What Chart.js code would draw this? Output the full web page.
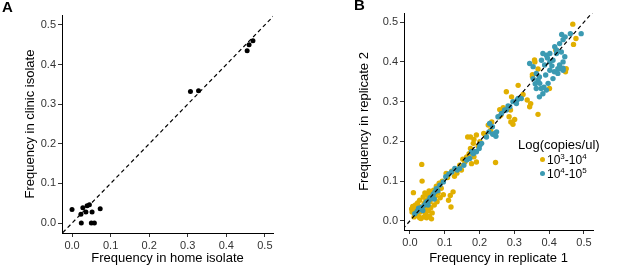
<!DOCTYPE html>
<html>
<head>
<meta charset="utf-8">
<script src="https://cdn.jsdelivr.net/npm/chart.js@4"></script>
<style>
  body { margin: 0; background: #fff; width: 617px; height: 266px; overflow: hidden; position: relative; font-family: "Liberation Sans", Arial, sans-serif; }
  canvas { position: absolute; top: 0; }
  #chartA { left: 0; }
  #chartB { left: 300px; }
  .tag { position: absolute; font-weight: bold; font-size: 15px; color: #000; }
  .leg { position: absolute; color: #000; white-space: nowrap; }
  .leg sup { font-size: 8px; }
  .dot { position: absolute; width: 5px; height: 5px; border-radius: 50%; }
</style>
</head>
<body>
<canvas id="chartA" width="300" height="266"></canvas>
<canvas id="chartB" width="317" height="266"></canvas>
<div class="tag" style="left:2px;top:-2px">A</div>
<div class="tag" style="left:354px;top:-4px">B</div>
<div class="leg" style="left:518px;top:137px;font-size:13px">Log(copies/ul)</div>
<div class="dot" style="left:540px;top:157px;background:#E1AF00"></div>
<div class="leg" style="left:547px;top:152px;font-size:12px">10<sup>3</sup>-10<sup>4</sup></div>
<div class="dot" style="left:540px;top:171px;background:#3B9AB2"></div>
<div class="leg" style="left:547px;top:166px;font-size:12px">10<sup>4</sup>-10<sup>5</sup></div>
<script>
// panel A: home vs clinic isolate
const homeFreq   = [0.000, 0.023, 0.028, 0.039, 0.045, 0.036, 0.052, 0.073, 0.024, 0.050, 0.058, 0.307, 0.328, 0.454, 0.459, 0.469];
const clinicFreq = [0.034, 0.022, 0.039, 0.044, 0.046, 0.028, 0.028, 0.036, 0.000, 0.000, 0.000, 0.332, 0.334, 0.435, 0.450, 0.460];

// panel B: replicate 1 vs replicate 2
const rep1Low = [0.005,0.006,0.008,0.010,0.012,0.014,0.016,0.018,0.020,0.022,0.024,0.026,0.028,0.030,0.032,0.034,0.035,0.036,0.038,0.040,
  0.041,0.043,0.045,0.046,0.048,0.050,0.051,0.053,0.055,0.056,0.058,0.060,0.062,0.064,0.066,0.068,0.070,0.073,0.076,0.078,
  0.081,0.084,0.087,0.090,0.093,0.096,0.012,0.028,0.044,0.062,
  0.104,0.108,0.111,0.116,0.118,0.124,0.120,0.128,0.135,0.143,0.148,0.158,0.163,0.170,0.174,0.184,0.191,0.177,0.166,0.174,
  0.184,0.191,0.182,0.201,0.152,0.196,
  0.246,0.225,0.232,0.235,0.256,0.261,0.258,0.268,0.277,0.289,0.285,0.290,0.301,0.296,0.212,0.218,0.292,
  0.311,0.337,0.347,0.344,0.368,0.359,0.368,0.449,0.447,0.470,0.468,0.477,0.352,0.325,0.401,0.419,0.358,0.352];
const rep2Low = [0.030,0.022,0.036,0.071,0.027,0.033,0.040,0.020,0.029,0.045,0.012,0.036,0.052,0.022,0.006,0.142,0.100,0.030,0.060,0.010,
  0.044,0.070,0.018,0.052,0.008,0.038,0.064,0.025,0.075,0.012,0.048,0.033,0.068,0.020,0.056,0.077,0.040,0.062,0.087,0.048,
  0.070,0.095,0.058,0.082,0.100,0.066,0.010,0.008,0.030,0.005,
  0.119,0.109,0.052,0.064,0.035,0.073,0.125,0.112,0.120,0.140,0.128,0.148,0.161,0.169,0.182,0.161,0.148,0.144,0.211,0.211,
  0.205,0.216,0.195,0.199,0.155,0.188,
  0.147,0.241,0.228,0.249,0.262,0.266,0.280,0.285,0.325,0.279,0.262,0.249,0.255,0.243,0.220,0.213,0.312,
  0.341,0.304,0.295,0.287,0.268,0.400,0.382,0.383,0.375,0.444,0.495,0.459,0.368,0.318,0.333,0.430,0.405,0.363];

const rep1High = [0.014,0.021,0.025,0.029,0.033,0.037,0.041,0.045,0.048,0.052,0.055,0.058,0.062,0.067,0.070,0.072,0.076,0.080,0.086,0.096,0.103,
  0.112,0.120,0.129,0.136,0.143,0.155,0.163,0.172,0.182,0.186,0.191,0.199,0.201,0.206,0.177,
  0.220,0.227,0.229,0.237,0.238,0.244,0.247,0.249,0.253,0.263,0.272,0.277,0.282,0.287,0.296,0.306,0.308,0.311,0.320,
  0.344,0.354,0.363,0.354,0.368,0.373,0.363,0.377,0.392,0.382,0.397,0.411,0.390,0.402,0.415,0.425,0.430,0.411,0.392,0.382,
  0.402,0.421,0.435,0.445,0.440,0.430,0.440,0.425,0.402,0.387,0.378,0.416,0.430,0.421,0.436,0.446,0.461,0.492,0.440,0.372,
  0.385,0.395,0.408,0.360,0.372,0.440];
const rep2High = [0.018,0.024,0.032,0.029,0.034,0.026,0.039,0.044,0.048,0.040,0.052,0.058,0.060,0.067,0.055,0.073,0.081,0.076,0.090,0.098,0.111,
  0.118,0.123,0.132,0.128,0.132,0.140,0.153,0.157,0.169,0.174,0.174,0.182,0.190,0.195,0.174,
  0.211,0.224,0.245,0.237,0.218,0.220,0.213,0.224,0.262,0.270,0.279,0.279,0.289,0.287,0.300,0.295,0.304,0.308,0.308,
  0.396,0.388,0.371,0.358,0.354,0.346,0.333,0.333,0.329,0.320,0.346,0.358,0.367,0.379,0.375,0.383,0.392,0.404,0.417,0.421,
  0.421,0.421,0.425,0.413,0.400,0.383,0.379,0.371,0.400,0.392,0.404,0.438,0.446,0.430,0.469,0.463,0.471,0.471,0.456,0.312,
  0.336,0.410,0.390,0.345,0.362,0.384];

const tickValues = [0, 0.1, 0.2, 0.3, 0.4, 0.5];
const diagonal = [-0.1, 0.6];

function pts(xs, ys) {
  return xs.map((x, i) => ({ x: x, y: ys[i] }));
}

function axis(min, max, title, size, isX, titlePad) {
  return {
    type: 'linear',
    min: min,
    max: max,
    afterBuildTicks: s => { s.ticks = tickValues.map(v => ({ value: v })); },
    afterFit: s => { if (isX) s.height = size; else s.width = size; },
    ticks: {
      callback: v => v.toFixed(1),
      font: { family: '"Liberation Sans", Arial, sans-serif', size: 11 },
      color: '#333',
      padding: 2,
      autoSkip: false,
      maxRotation: 0
    },
    grid: { display: true, drawOnChartArea: false, drawTicks: true, tickLength: 4, color: '#333' },
    border: { display: true, color: '#000', width: 1 },
    title: {
      display: true,
      text: title,
      color: '#000',
      font: { family: '"Liberation Sans", Arial, sans-serif', size: 13 },
      padding: isX ? { top: 0, bottom: 0 } : { top: titlePad, bottom: 0 }
    }
  };
}

function dashLine() {
  return {
    data: diagonal.map(v => ({ x: v, y: v })),
    showLine: true,
    pointRadius: 0,
    borderColor: '#000',
    borderWidth: 1.2,
    borderDash: [4, 3]
  };
}

const common = {
  responsive: false,
  animation: false,
  plugins: { legend: { display: false }, tooltip: { enabled: false } }
};

new Chart(document.getElementById('chartA'), {
  type: 'scatter',
  data: {
    datasets: [
      dashLine(),
      { data: pts(homeFreq, clinicFreq), backgroundColor: '#000', pointRadius: 2.5, borderWidth: 0 }
    ]
  },
  options: Object.assign({}, common, {
    layout: { padding: { left: 0, top: 15, right: 27, bottom: 0 } },
    scales: {
      x: axis(-0.026, 0.521, 'Frequency in home isolate', 33, true),
      y: axis(-0.025, 0.525, 'Frequency in clinic isolate', 62, false, 23)
    }
  })
});

new Chart(document.getElementById('chartB'), {
  type: 'scatter',
  data: {
    datasets: [
      dashLine(),
      { data: pts(rep1High, rep2High), backgroundColor: '#3B9AB2', pointRadius: 2.7, borderWidth: 0 },
      { data: pts(rep1Low, rep2Low), backgroundColor: '#E1AF00', pointRadius: 2.7, borderWidth: 0 }
    ]
  },
  options: Object.assign({}, common, {
    layout: { padding: { left: 0, top: 13, right: 24, bottom: 0 } },
    scales: {
      x: axis(-0.017, 0.526, 'Frequency in replicate 1', 36, true),
      y: axis(-0.023, 0.523, 'Frequency in replicate 2', 104, false, 57)
    }
  })
});
</script>
</body>
</html>
